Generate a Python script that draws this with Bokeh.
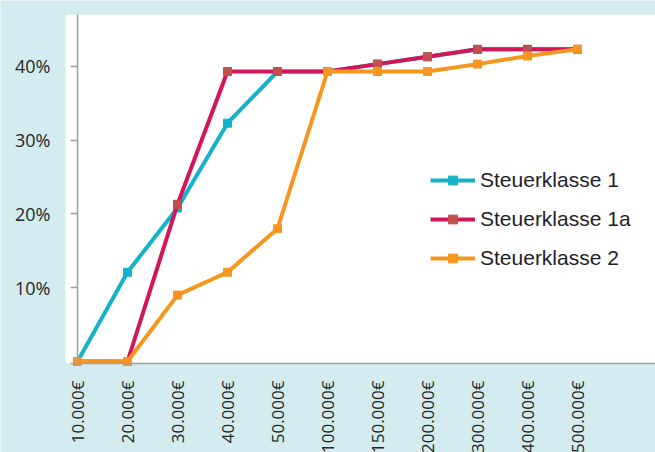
import math
from bokeh.plotting import figure
from bokeh.models import Range1d, FixedTicker, Legend, LegendItem, BoxAnnotation
from bokeh.embed import file_html
from bokeh.resources import INLINE

categories = ["10.000€", "20.000€", "30.000€", "40.000€", "50.000€", "100.000€",
              "150.000€", "200.000€", "300.000€", "400.000€", "500.000€"]
sk1 = [0.0, 12.1, 20.8, 32.3, 39.3, 39.3, 40.3, 41.3, 42.3, 42.3, 42.3]
sk1a = [0.0, 0.0, 21.3, 39.3, 39.3, 39.3, 40.3, 41.3, 42.3, 42.3, 42.3]
sk2 = [0.0, 0.0, 9.0, 12.1, 18.0, 39.3, 39.3, 39.3, 40.3, 41.4, 42.3]
series_names = ["Steuerklasse 1", "Steuerklasse 1a", "Steuerklasse 2"]
y_ticks = [10, 20, 30, 40]
y_tick_labels = ["10%", "20%", "30%", "40%"]

xs = list(range(len(categories)))

BG = "#d4ecf0"
AXIS = "#a0a0a0"
TXT = "#262626"

X_START, X_END = -1.54, 11.56
AREA_X0, AREA_Y0, AREA_Y1 = -0.24, -0.27, 47.0
p = figure(width=655, height=452, output_backend="svg", toolbar_location=None,
           x_range=Range1d(X_START, X_END), y_range=Range1d(-12.33, 48.92),
           min_border_left=0, min_border_right=0, min_border_top=0, min_border_bottom=0)
p.border_fill_color = BG
p.background_fill_color = BG
p.outline_line_color = None
p.grid.visible = False

p.add_layout(BoxAnnotation(left=AREA_X0, bottom=AREA_Y0, top=AREA_Y1,
                           fill_color="white", fill_alpha=1, line_color=None, level="underlay"))

# x axis at the bottom of the white area
xa = p.xaxis[0]
xa.fixed_location = AREA_Y0
xa.bounds = (AREA_X0 + 0.1, X_END)
xa.ticker = FixedTicker(ticks=xs)
xa.major_label_overrides = {i: c for i, c in zip(xs, categories)}
xa.major_label_orientation = math.pi / 2
xa.major_label_text_font = "Open Sans"
xa.major_label_text_font_size = "17px"
xa.major_label_text_color = TXT
xa.major_label_standoff = 17
xa.major_tick_line_color = None
xa.major_tick_out = 0
xa.major_tick_in = 0
xa.minor_tick_line_color = None
xa.axis_line_color = AXIS
xa.axis_line_width = 1.5

# y axis at the first category
ya = p.yaxis[0]
ya.fixed_location = xs[0]
ya.bounds = (AREA_Y0, AREA_Y1)
ya.ticker = FixedTicker(ticks=y_ticks)
ya.major_label_overrides = {t: l for t, l in zip(y_ticks, y_tick_labels)}
ya.major_label_text_font = "Open Sans"
ya.major_label_text_font_size = "18px"
ya.major_label_text_color = TXT
ya.major_label_standoff = 20
ya.major_tick_line_color = AXIS
ya.major_tick_line_width = 1.5
ya.major_tick_out = 7
ya.major_tick_in = 0
ya.minor_tick_line_color = None
ya.axis_line_color = AXIS
ya.axis_line_width = 1.5

line_colors = ["#14b2c8", "#d2165a", "#f7961e"]
marker_colors = ["#14b2c8", "#c0504d", "#f7961e"]
items = []
for name, ys, lc, mc in zip(series_names, [sk1, sk1a, sk2], line_colors, marker_colors):
    lr = p.line(xs, ys, line_color=lc, line_width=4)
    sr = p.scatter(xs, ys, marker="square", size=8, fill_color=mc, line_color=mc)
    items.append(LegendItem(label=name, renderers=[lr, sr]))

legend = Legend(items=items, location=(430, 182), background_fill_alpha=0,
                border_line_color=None, padding=0, margin=0, spacing=15,
                glyph_width=45, glyph_height=22, label_height=22, label_standoff=5,
                label_text_font="Liberation Sans", label_text_font_size="21px",
                label_text_color="#1e1e2a")
p.add_layout(legend)

open("out.html", "w").write(file_html(p, INLINE))
